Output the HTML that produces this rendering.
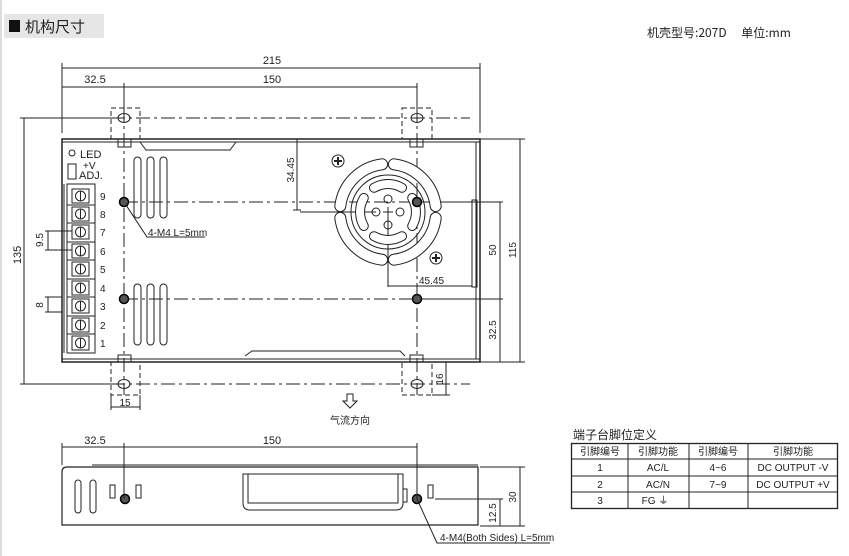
<!DOCTYPE html>
<html><head><meta charset="utf-8"><style>
html,body{margin:0;padding:0;background:#fff;width:849px;height:556px;overflow:hidden}
svg{display:block}
text{font-family:"Liberation Sans","Noto Sans CJK SC",sans-serif;fill:#222}
</style></head><body>
<svg width="849" height="556" viewBox="0 0 849 556" xmlns="http://www.w3.org/2000/svg">
<rect x="0" y="0" width="2" height="556" fill="#ddd"/>
<rect x="4" y="14" width="100" height="24" fill="#e6e6e6"/>
<rect x="9" y="20" width="11" height="12" fill="#111"/>
<text x="25" y="32" font-size="15" style="font-family:'Noto Sans CJK SC',sans-serif" fill="#333">机构尺寸</text>
<text x="647" y="37" font-size="12" style="font-family:'Noto Sans CJK SC',sans-serif" fill="#333">机壳型号:207D　 单位:mm</text>

<g stroke="#222" fill="none" stroke-width="1">
<line x1="62" y1="68" x2="480" y2="68"/>
<line x1="62" y1="87" x2="417" y2="87"/>
<line x1="62" y1="63" x2="62" y2="133"/>
<line x1="480" y1="63" x2="480" y2="133"/>
<line x1="124" y1="83" x2="124" y2="108"/>
<line x1="417" y1="83" x2="417" y2="108"/>
<line x1="20" y1="118" x2="111" y2="118"/>
<line x1="20" y1="384" x2="111" y2="384"/>
<line x1="24" y1="118" x2="24" y2="384"/>
<g stroke-dasharray="14 4 3 4">
<line x1="111" y1="118" x2="470" y2="118"/>
<line x1="111" y1="384" x2="470" y2="384"/>
<line x1="124" y1="202" x2="417" y2="202"/>
<line x1="124" y1="299" x2="417" y2="299"/>
<line x1="124" y1="108" x2="124" y2="395"/>
<line x1="417" y1="108" x2="417" y2="395"/>
</g>
<line x1="417" y1="202" x2="503" y2="202"/>
<line x1="417" y1="299" x2="503" y2="299"/>
<g stroke-dasharray="5 3">
<rect x="111" y="108" width="29" height="31"/>
<rect x="402" y="108" width="30" height="31"/>
<rect x="111" y="362" width="29" height="33"/>
<rect x="402" y="362" width="30" height="33"/>
</g>
<ellipse cx="124" cy="118" rx="6" ry="4.5"/>
<ellipse cx="417" cy="118" rx="6" ry="4.5"/>
<ellipse cx="124" cy="384" rx="6" ry="4.5"/>
<ellipse cx="417" cy="384" rx="6" ry="4.5"/>
<rect x="118" y="139" width="13" height="8"/>
<rect x="410" y="139" width="13" height="8"/>
<rect x="118" y="355" width="13" height="7"/>
<rect x="410" y="355" width="13" height="7"/>
<rect x="62" y="139" width="418" height="223" stroke-width="1.5"/>
<line x1="62" y1="142" x2="480" y2="142"/>
<line x1="62" y1="359" x2="480" y2="359"/>
<line x1="476" y1="142" x2="476" y2="359"/>
<path d="M140 142 L146 150 L230 150 L236 142"/>
<path d="M245 356 L252 351 L400 351 L405 356"/>
<rect x="472" y="200" width="5" height="87"/>
<circle cx="72" cy="153" r="3"/>
<rect x="68" y="164" width="8" height="15"/>
<rect x="67" y="184" width="28" height="169"/>
<line x1="64" y1="184" x2="64" y2="353"/>
</g>
<g stroke="#222" fill="none">
<rect x="72" y="189" width="17" height="14"/><circle cx="80.5" cy="196" r="5"/><line x1="80.5" y1="191" x2="80.5" y2="201"/>
<rect x="72" y="207" width="17" height="14"/><circle cx="80.5" cy="214" r="5"/><line x1="80.5" y1="209" x2="80.5" y2="219"/>
<rect x="72" y="225" width="17" height="14"/><circle cx="80.5" cy="232" r="5"/><line x1="80.5" y1="227" x2="80.5" y2="237"/>
<rect x="72" y="244" width="17" height="14"/><circle cx="80.5" cy="251" r="5"/><line x1="80.5" y1="246" x2="80.5" y2="256"/>
<rect x="72" y="262" width="17" height="14"/><circle cx="80.5" cy="269" r="5"/><line x1="80.5" y1="264" x2="80.5" y2="274"/>
<rect x="72" y="281" width="17" height="14"/><circle cx="80.5" cy="288" r="5"/><line x1="80.5" y1="283" x2="80.5" y2="293"/>
<rect x="72" y="299" width="17" height="14"/><circle cx="80.5" cy="306" r="5"/><line x1="80.5" y1="301" x2="80.5" y2="311"/>
<rect x="72" y="318" width="17" height="14"/><circle cx="80.5" cy="325" r="5"/><line x1="80.5" y1="320" x2="80.5" y2="330"/>
<rect x="72" y="336" width="17" height="14"/><circle cx="80.5" cy="343" r="5"/><line x1="80.5" y1="338" x2="80.5" y2="348"/>
<line x1="67" y1="205" x2="95" y2="205"/><line x1="67" y1="223" x2="95" y2="223"/><line x1="67" y1="242" x2="95" y2="242"/><line x1="67" y1="260" x2="95" y2="260"/><line x1="67" y1="279" x2="95" y2="279"/><line x1="67" y1="297" x2="95" y2="297"/><line x1="67" y1="316" x2="95" y2="316"/><line x1="67" y1="334" x2="95" y2="334"/>
<line x1="45" y1="231" x2="72" y2="231"/><line x1="45" y1="250" x2="72" y2="250"/><line x1="48" y1="231" x2="48" y2="250"/>
<line x1="45" y1="297" x2="62" y2="297"/><line x1="45" y1="312" x2="62" y2="312"/><line x1="48" y1="297" x2="48" y2="312"/>
<rect x="134" y="157" width="7" height="61" rx="3.5"/><rect x="147" y="157" width="7" height="61" rx="3.5"/><rect x="160" y="157" width="7" height="61" rx="3.5"/>
<rect x="134" y="284" width="7" height="61" rx="3.5"/><rect x="147" y="284" width="7" height="61" rx="3.5"/><rect x="160" y="284" width="7" height="61" rx="3.5"/>
<path d="M124 202 L147 237 L205 237"/>
<line x1="297" y1="139" x2="297" y2="210"/>
<line x1="293" y1="210" x2="301" y2="210"/>
<line x1="300" y1="212" x2="376" y2="212"/>
<line x1="388" y1="216" x2="388" y2="287"/>
<line x1="388" y1="286" x2="472" y2="286"/>
<line x1="500" y1="202" x2="500" y2="362"/>
<line x1="520" y1="139" x2="520" y2="362"/>
<line x1="480" y1="139" x2="525" y2="139"/>
<line x1="480" y1="362" x2="525" y2="362"/>
<line x1="446" y1="362" x2="446" y2="395"/>
<line x1="432" y1="395" x2="450" y2="395"/>
<line x1="432" y1="362" x2="450" y2="362"/>
<line x1="111" y1="395" x2="111" y2="410"/><line x1="140" y1="395" x2="140" y2="410"/><line x1="111" y1="407" x2="140" y2="407"/>
</g>
<g fill="none" stroke-linecap="round">
<g stroke="#222" stroke-width="12">
<path d="M435.7 206.1 A48 48 0 0 0 393.9 164.3"/><path d="M382.1 164.3 A48 48 0 0 0 340.3 206.1"/><path d="M340.3 217.9 A48 48 0 0 0 382.1 259.7"/><path d="M393.9 259.7 A48 48 0 0 0 435.7 217.9"/>
</g>
<g stroke="#fff" stroke-width="10">
<path d="M435.7 206.1 A48 48 0 0 0 393.9 164.3"/><path d="M382.1 164.3 A48 48 0 0 0 340.3 206.1"/><path d="M340.3 217.9 A48 48 0 0 0 382.1 259.7"/><path d="M393.9 259.7 A48 48 0 0 0 435.7 217.9"/>
</g>
<circle cx="388" cy="212" r="37" stroke="#222" stroke-width="1"/>
<g stroke="#222" stroke-width="10">
<path d="M402 187.8 A28 28 0 0 0 374 187.8"/><path d="M363.8 198 A28 28 0 0 0 363.8 226"/><path d="M374 236.2 A28 28 0 0 0 402 236.2"/><path d="M412.2 226 A28 28 0 0 0 412.2 198"/>
</g>
<g stroke="#fff" stroke-width="8">
<path d="M402 187.8 A28 28 0 0 0 374 187.8"/><path d="M363.8 198 A28 28 0 0 0 363.8 226"/><path d="M374 236.2 A28 28 0 0 0 402 236.2"/><path d="M412.2 226 A28 28 0 0 0 412.2 198"/>
</g>
</g>
<g stroke="#222" fill="none">
<circle cx="388" cy="199" r="4"/><circle cx="376" cy="212" r="4"/><circle cx="400" cy="212" r="4"/><circle cx="388" cy="225" r="4"/>
<line x1="383" y1="212" x2="393" y2="212"/><line x1="388" y1="207" x2="388" y2="217"/>
<circle cx="338" cy="161" r="6"/><path d="M334 161h8M338 157v8" stroke-width="2"/>
<circle cx="436" cy="258" r="6"/><path d="M432 258h8M436 254v8" stroke-width="2"/>
</g>
<g fill="#555" stroke="#000" stroke-width="1.5">
<circle cx="124" cy="202" r="4.5"/><circle cx="124" cy="299" r="4.5"/><circle cx="417" cy="202" r="4.5"/><circle cx="417" cy="299" r="4.5"/>
<circle cx="125" cy="499" r="4.5"/><circle cx="417" cy="499" r="4.5"/>
</g>
<path d="M347 394 h6 v7 h4 l-7 7 l-7 -7 h4 z" fill="none" stroke="#222"/>
<text x="350" y="424" font-size="10" text-anchor="middle" style="font-family:'Noto Sans CJK SC',sans-serif">气流方向</text>

<g font-size="11">
<text x="272" y="64" text-anchor="middle">215</text>
<text x="95" y="83" text-anchor="middle">32.5</text>
<text x="272" y="83" text-anchor="middle">150</text>
<text x="80" y="158">LED</text>
<text x="83" y="169" font-size="10">+V</text>
<text x="79" y="179">ADJ.</text>
<text x="100" y="200" font-size="10">9</text><text x="100" y="218" font-size="10">8</text><text x="100" y="236" font-size="10">7</text><text x="100" y="255" font-size="10">6</text><text x="100" y="273" font-size="10">5</text><text x="100" y="292" font-size="10">4</text><text x="100" y="310" font-size="10">3</text><text x="100" y="329" font-size="10">2</text><text x="100" y="347" font-size="10">1</text>
<text x="148" y="236" font-size="10">4-M4 L=5mm</text>
<text x="419" y="284" font-size="10">45.45</text>
<text x="125" y="406" text-anchor="middle" font-size="10">15</text>
<text transform="translate(21,255) rotate(-90)" text-anchor="middle">135</text>
<text transform="translate(43,240) rotate(-90)" text-anchor="middle" font-size="10">9.5</text>
<text transform="translate(43,305) rotate(-90)" text-anchor="middle" font-size="10">8</text>
<text transform="translate(294,170) rotate(-90)" text-anchor="middle" font-size="10">34.45</text>
<text transform="translate(496,250) rotate(-90)" text-anchor="middle" font-size="10">50</text>
<text transform="translate(496,330) rotate(-90)" text-anchor="middle" font-size="10">32.5</text>
<text transform="translate(516,250) rotate(-90)" text-anchor="middle" font-size="10">115</text>
<text transform="translate(443,379) rotate(-90)" text-anchor="middle" font-size="10">16</text>
</g>

<g stroke="#222" fill="none">
<line x1="62" y1="447" x2="417" y2="447"/>
<line x1="62" y1="443" x2="62" y2="465"/>
<line x1="124" y1="443" x2="124" y2="499"/>
<line x1="417" y1="443" x2="417" y2="499"/>
<path d="M62 525 L62 472 Q62 467 67 467 L478 467 L478 525 Z" stroke-width="1.2"/>
<line x1="92" y1="465" x2="478" y2="465"/>
<rect x="75" y="480" width="6" height="33" rx="3"/><rect x="90" y="480" width="6" height="33" rx="3"/>
<rect x="110" y="485" width="5" height="13"/><rect x="136" y="485" width="5" height="13"/>
<path d="M243 474 L403 474 L403 503 Q403 510 396 510 L250 510 Q243 510 243 503 Z"/>
<path d="M248 474 L248 503 L398 503 L398 474"/>
<rect x="403" y="489" width="4" height="13"/>
<rect x="428" y="485" width="5" height="13"/>
<line x1="435" y1="499" x2="503" y2="499"/>
<line x1="480" y1="467" x2="525" y2="467"/>
<line x1="480" y1="526" x2="525" y2="526"/>
<line x1="520" y1="467" x2="520" y2="526"/>
<line x1="500" y1="499" x2="500" y2="526"/>
<path d="M417 499 L437 543 L550 543"/>
</g>
<g font-size="11">
<text x="95" y="444" text-anchor="middle">32.5</text>
<text x="272" y="444" text-anchor="middle">150</text>
<text transform="translate(516,497) rotate(-90)" text-anchor="middle" font-size="10">30</text>
<text transform="translate(496,513) rotate(-90)" text-anchor="middle" font-size="10">12.5</text>
<text x="440" y="541" font-size="10">4-M4(Both Sides) L=5mm</text>
</g>

<text x="573" y="439" font-size="12" style="font-family:'Noto Sans CJK SC',sans-serif" fill="#333">端子台脚位定义</text>
<g stroke="#222" fill="none">
<rect x="571.5" y="443.5" width="266" height="65" stroke-width="1.3"/>
<line x1="628" y1="443" x2="628" y2="509"/><line x1="689" y1="443" x2="689" y2="509"/><line x1="748" y1="443" x2="748" y2="509"/>
<line x1="571" y1="459" x2="838" y2="459"/><line x1="571" y1="476" x2="838" y2="476"/><line x1="571" y1="492" x2="838" y2="492"/>
</g>
<g font-size="10" text-anchor="middle" fill="#444">
<text x="600" y="455" style="font-family:'Noto Sans CJK SC',sans-serif" fill="#777">引脚编号</text>
<text x="658" y="455" style="font-family:'Noto Sans CJK SC',sans-serif" fill="#777">引脚功能</text>
<text x="718" y="455" style="font-family:'Noto Sans CJK SC',sans-serif" fill="#777">引脚编号</text>
<text x="793" y="455" style="font-family:'Noto Sans CJK SC',sans-serif" fill="#777">引脚功能</text>
<text x="600" y="471">1</text><text x="658" y="471">AC/L</text><text x="718" y="471">4~6</text><text x="793" y="471">DC OUTPUT -V</text>
<text x="600" y="488">2</text><text x="658" y="488">AC/N</text><text x="718" y="488">7~9</text><text x="793" y="488">DC OUTPUT +V</text>
<text x="600" y="504">3</text><text x="655" y="504">FG ⏚</text>
</g>
</svg>
</body></html>
